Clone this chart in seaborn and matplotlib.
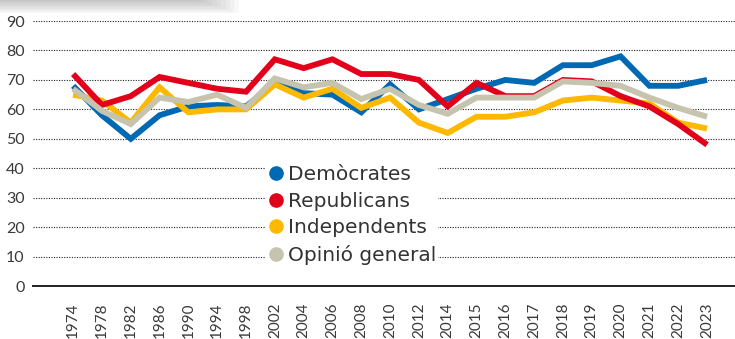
import matplotlib
matplotlib.use("Agg")
import matplotlib.pyplot as plt
import seaborn as sns
import pandas as pd
from matplotlib.patches import Rectangle

# data
years = ['1974', '1978', '1982', '1986', '1990', '1994', '1998', '2002', '2004',
         '2006', '2008', '2010', '2012', '2014', '2015', '2016', '2017', '2018',
         '2019', '2020', '2021', '2022', '2023']

democrates = [68, 58, 50, 58, 61, 61.5, 61, 69, 65.5, 65, 59, 68.5, 60, 63.5,
              67, 70, 69, 75, 75, 78, 68, 68, 70]
republicans = [72, 61.5, 64.5, 71, 69, 67, 66, 77, 74, 77, 72, 72, 70, 61,
               69, 64.5, 64.5, 70, 69.5, 64.5, 61, 55, 48]
independents = [65, 63, 55.5, 67.5, 59, 60, 60, 68.5, 64, 67, 60.5, 64, 55.5, 52,
                57.5, 57.5, 59, 63, 64, 63, 62, 55.5, 53.5]
general = [67, 59.5, 55, 64, 62.5, 65, 60.5, 70.5, 67.5, 69, 63.5, 67, 61.5, 58.5,
           64, 64, 64, 69.5, 69, 68, 64, 60.5, 57.5]

series = {
    'Demòcrates': democrates,
    'Republicans': republicans,
    'Independents': independents,
    'Opinió general': general,
}
colors = {
    'Demòcrates': '#0069b4',
    'Republicans': '#e2001a',
    'Independents': '#fdb900',
    'Opinió general': '#c6c4ae',
}

rows = []
for name, vals in series.items():
    for i, (yr, v) in enumerate(zip(years, vals)):
        rows.append({'pos': i, 'year': yr, 'value': v, 'serie': name})
df = pd.DataFrame(rows)

sns.set_style("white")
plt.rcParams['font.family'] = ['Lato', 'DejaVu Sans']

fig = plt.figure(figsize=(7.35, 3.39), dpi=100)
ax = fig.add_axes([0.045, 0.156, 0.955, 0.782])

# faint shadow at the top left (cut-off box above the chart)
for k in range(10):
    fig.add_artist(Rectangle((-0.02, 0.962 + k * 0.004), 0.345 - k * 0.006, 0.06,
                             transform=fig.transFigure, facecolor='#8a8a8a',
                             edgecolor='none', alpha=0.06, zorder=0))

# draw order: blue, yellow, red, gray on top
order = ['Demòcrates', 'Independents', 'Republicans', 'Opinió general']
for name in order:
    sub = df[df['serie'] == name]
    sns.lineplot(data=sub, x='pos', y='value', color=colors[name], lw=4.2,
                 ax=ax, solid_joinstyle='miter', solid_capstyle='butt',
                 legend=False, zorder=3)

txt = '#3a3a3a'
ax.set_xlim(-1.39, 22.97)
ax.set_ylim(0, 90)
ax.set_yticks(range(0, 91, 10))
ax.set_xticks(range(len(years)))
ax.set_xticklabels(years, rotation=90, fontsize=11, color=txt)
for t in ax.get_yticklabels():
    t.set_fontsize(11.5)
    t.set_color(txt)
ax.set_xlabel('')
ax.set_ylabel('')

ax.yaxis.grid(True, linestyle=(0, (1, 1.3)), color='#222222', lw=0.8)
ax.set_axisbelow(True)
for s in ['top', 'right', 'left']:
    ax.spines[s].set_visible(False)
ax.spines['bottom'].set_color('#222222')
ax.spines['bottom'].set_linewidth(1.4)
ax.tick_params(axis='y', length=4, width=0.8, color='#555555', pad=2)
ax.tick_params(axis='x', length=0, pad=12)

handles = [plt.Line2D([], [], marker='o', ls='', ms=9.5, color=colors[n])
           for n in series]
leg = ax.legend(handles, list(series.keys()), loc='center left',
                bbox_to_anchor=(0.33, 0.268), frameon=True,
                prop={'family': 'DejaVu Sans', 'size': 14.5},
                handletextpad=0.15, labelspacing=0.38, borderpad=0.1,
                handlelength=0.9, borderaxespad=0)
leg.get_frame().set_facecolor('white')
leg.get_frame().set_edgecolor('none')
leg.get_frame().set_alpha(1)
for t in leg.get_texts():
    t.set_color('#333333')

fig.savefig('out.png', dpi=100)
